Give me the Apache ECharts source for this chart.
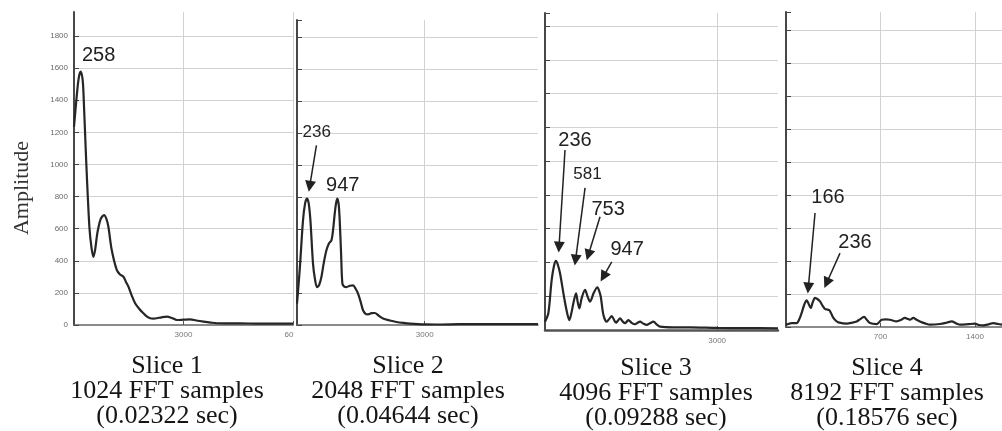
<!DOCTYPE html>
<html lang="en">
<head>
<meta charset="UTF-8">
<title>FFT slices</title>
<style>
  html, body { margin: 0; padding: 0; background: #fff; }
  #main { width: 1002px; height: 431px; }
</style>
</head>
<body>
<div id="main"></div>
<script src="https://cdn.jsdelivr.net/npm/echarts@6/dist/echarts.min.js"></script>
<script>
// spectra: frequency (Hz) / amplitude
var slice1Freq = [0, 73, 130, 183, 230, 256, 329, 421, 480, 531, 580, 640, 730, 824, 890, 942, 1034, 1171, 1260, 1354, 1420, 1491, 1580, 1674, 1790, 1903, 2000, 2086, 2180, 2269, 2400, 2544, 2680, 2819, 3000, 3184, 3350, 3550, 3750, 3917, 4300, 4557, 5000, 5500, 6000];
var slice1Amp = [1235, 1422, 1540, 1578, 1540, 1464, 1049, 612, 480, 425, 470, 573, 660, 685, 660, 612, 467, 343, 315, 301, 270, 239, 185, 135, 100, 73, 52, 42, 40, 42, 48, 52, 44, 31, 33, 35, 28, 21, 15, 11, 10, 10, 9, 9, 9];

var slice2Freq = [0, 63, 141, 190, 235, 275, 315, 376, 420, 470, 520, 573, 630, 691, 750, 808, 850, 886, 920, 949, 980, 1003, 1035, 1066, 1110, 1160, 1240, 1316, 1380, 1434, 1500, 1551, 1610, 1669, 1750, 1826, 1920, 2021, 2180, 2335, 2500, 2648, 3000, 3400, 3800, 4300, 5000, 5660];
var slice2Amp = [134, 342, 654, 760, 790, 760, 654, 384, 290, 237, 250, 300, 390, 467, 510, 529, 600, 696, 765, 790, 750, 654, 450, 259, 240, 237, 245, 248, 225, 196, 140, 92, 70, 67, 74, 75, 58, 40, 28, 19, 13, 9, 4, 3, 5, 5, 5, 5];

var slice3Freq = [0, 58, 116, 160, 192, 225, 262, 331, 380, 424, 460, 494, 541, 570, 599, 640, 698, 740, 785, 850, 913, 945, 972, 1018, 1076, 1120, 1163, 1200, 1238, 1270, 1308, 1350, 1395, 1425, 1453, 1510, 1570, 1610, 1657, 1710, 1773, 1830, 1890, 1950, 2006, 2238, 2529, 3000, 3500, 4060];
var slice3Amp = [49, 99, 296, 385, 410, 385, 336, 197, 110, 59, 100, 158, 217, 165, 128, 190, 237, 200, 168, 220, 253, 230, 197, 89, 49, 66, 83, 62, 43, 55, 69, 52, 40, 50, 59, 42, 34, 42, 49, 38, 30, 40, 49, 32, 20, 16, 16, 12, 11, 10];

var slice4Freq = [0, 42, 79, 100, 116, 135, 153, 168, 183, 198, 215, 235, 252, 270, 289, 305, 321, 336, 351, 370, 388, 450, 490, 524, 550, 578, 600, 622, 672, 709, 740, 770, 820, 850, 881, 905, 918, 943, 965, 992, 1030, 1067, 1141, 1190, 1228, 1260, 1290, 1350, 1400, 1430, 1462, 1500, 1536, 1570, 1600];
var slice4Amp = [14, 24, 24, 50, 85, 135, 161, 140, 115, 150, 176, 168, 155, 130, 109, 106, 101, 80, 55, 38, 28, 20, 26, 34, 48, 61, 42, 24, 18, 44, 46, 44, 34, 42, 55, 48, 44, 55, 45, 34, 22, 14, 18, 26, 34, 22, 14, 17, 20, 12, 10, 16, 24, 18, 14];

// peak labels: text, freq, amp (where the text sits)
var slice1Notes = [['258', 673, 1676]];
var slice2Notes = [['236', 463, 1204], ['947', 1074, 873]];
var slice3Notes = [['236', 523, 1125], ['581', 741, 924], ['753', 1099, 716], ['947', 1430, 474]];
var slice4Notes = [['166', 311, 784], ['236', 511, 511]];

// arrows: from [freq, amp] to [freq, amp]
var slice1Arrows = [];
var slice2Arrows = [[456, 1123, 298, 867]];
var slice3Arrows = [[349, 1066, 244, 491], [698, 841, 532, 414], [959, 671, 755, 444], [1163, 404, 1017, 316]];
var slice4Arrows = [[215, 691, 165, 236], [400, 448, 301, 267]];

var xMax = [6000, 5660, 4060, 1600];
var yMax = [1950, 1906, 1877, 1909];
var xStep = [3000, 3000, 3000, 700];
var yStep = 200;

var captions = [
  'Slice 1\n1024 FFT samples\n(0.02322 sec)',
  'Slice 2\n2048 FFT samples\n(0.04644 sec)',
  'Slice 3\n4096 FFT samples\n(0.09288 sec)',
  'Slice 4\n8192 FFT samples\n(0.18576 sec)'
];

// plot boxes in pixels
var boxes = [
  { left: 74, top: 12, width: 219, height: 313 },
  { left: 297, top: 20, width: 241, height: 305 },
  { left: 545, top: 13, width: 233, height: 317 },
  { left: 786, top: 12, width: 216, height: 315 }
];
var captionX = [167, 408, 656, 887];
var captionY = [354, 354, 356, 356];

var freqs = [slice1Freq, slice2Freq, slice3Freq, slice4Freq];
var amps = [slice1Amp, slice2Amp, slice3Amp, slice4Amp];
var notes = [slice1Notes, slice2Notes, slice3Notes, slice4Notes];
var arrows = [slice1Arrows, slice2Arrows, slice3Arrows, slice4Arrows];

var grids = [], xAxes = [], yAxes = [], series = [];

for (var i = 0; i < 4; i++) {
  grids.push(boxes[i]);

  xAxes.push({
    type: 'value',
    gridIndex: i,
    min: 0,
    max: xMax[i],
    interval: xStep[i],
    axisLine: { lineStyle: { color: i === 2 ? '#555' : '#666', width: i === 2 ? 2.5 : 1.5 } },
    axisTick: { show: true, inside: true, length: 4, lineStyle: { color: '#555' } },
    axisLabel: {
      showMinLabel: false,
      showMaxLabel: i === 0,
      fontSize: 8,
      color: '#777',
      fontFamily: 'Liberation Sans',
      margin: i === 2 ? 7 : 6,
      formatter: function (v) { return v === 6000 ? '60\u2002\u2002' : String(v); }
    },
    splitLine: { show: true, showMinLine: false, showMaxLine: i === 0, lineStyle: { color: '#d2d2d2', width: 1 } }
  });

  yAxes.push({
    type: 'value',
    gridIndex: i,
    min: 0,
    max: yMax[i],
    interval: yStep,
    axisLine: { show: true, lineStyle: { color: '#333', width: 1.8 } },
    axisTick: { show: true, inside: true, length: 5, lineStyle: { color: '#444' } },
    axisLabel: {
      show: i === 0,
      showMaxLabel: false,
      fontSize: 8,
      color: '#6a6a6a',
      fontFamily: 'Liberation Sans',
      margin: 6,
      formatter: function (v) { return String(v); }
    },
    splitLine: { show: true, showMinLine: false, showMaxLine: false, lineStyle: { color: '#d2d2d2', width: 1 } }
  });

  var lineData = freqs[i].map(function (f, k) { return [f, amps[i][k]]; });

  series.push({
    type: 'line',
    xAxisIndex: i,
    yAxisIndex: i,
    data: lineData,
    smooth: 0.3,
    showSymbol: false,
    silent: true,
    lineStyle: { color: '#262626', width: 2.2 },
    markPoint: {
      silent: true,
      symbol: 'rect',
      symbolSize: 1,
      itemStyle: { color: 'rgba(0,0,0,0)' },
      label: {
        show: true,
        position: 'inside',
        formatter: '{b}',
        fontFamily: 'Liberation Sans',
        color: '#222'
      },
      data: notes[i].map(function (n) {
        var small = (i === 2 && n[0] === '581') || (i === 1 && n[0] === '236');
        return { name: n[0], coord: [n[1], n[2]], label: { fontSize: small ? 17 : 20 } };
      })
    },
    markLine: {
      silent: true,
      symbol: ['none', 'triangle'],
      symbolSize: [11, 11],
      label: { show: false },
      lineStyle: { color: '#222', width: 1.5, type: 'solid' },
      itemStyle: { color: '#111' },
      data: arrows[i].map(function (a) {
        return [{ coord: [a[0], a[1]] }, { coord: [a[2], a[3]] }];
      })
    }
  });
}

var texts = captions.map(function (t, k) {
  return {
    type: 'text',
    x: captionX[k],
    y: captionY[k],
    silent: true,
    style: {
      text: t,
      fontFamily: 'Liberation Serif',
      fontSize: 26,
      lineHeight: 25,
      fill: '#151515',
      align: 'center',
      verticalAlign: 'top',
      textAlign: 'center',
      textVerticalAlign: 'top'
    }
  };
});
// y axis title
texts.push({
  type: 'text',
  x: 22,
  y: 188,
  rotation: Math.PI / 2,
  silent: true,
  style: {
    text: 'Amplitude',
    fontFamily: 'Liberation Serif',
    fontSize: 22,
    fill: '#333',
    align: 'center',
    verticalAlign: 'middle',
    textAlign: 'center',
    textVerticalAlign: 'middle'
  }
});

var chart = echarts.init(document.getElementById('main'));
chart.setOption({
  backgroundColor: '#fff',
  animation: false,
  grid: grids,
  xAxis: xAxes,
  yAxis: yAxes,
  series: series,
  graphic: texts
});
</script>
</body>
</html>
